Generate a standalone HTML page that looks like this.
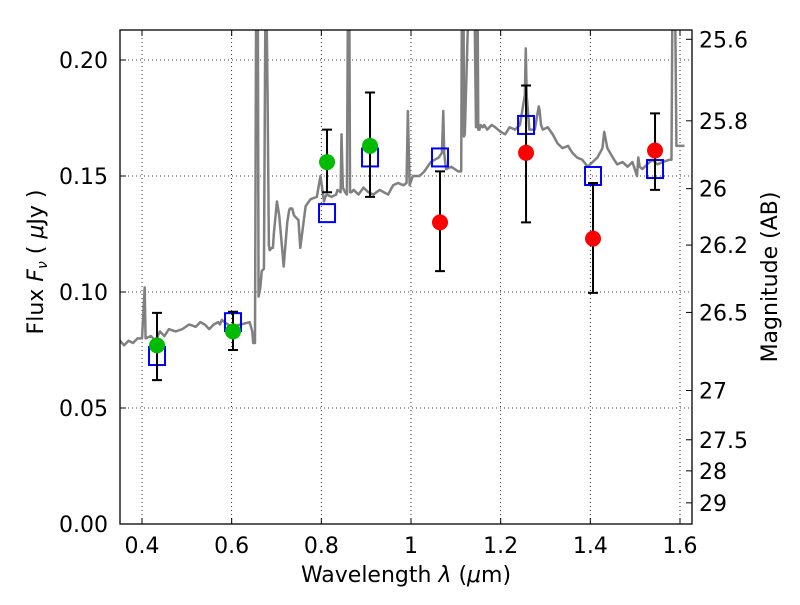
<!DOCTYPE html>
<html><head><meta charset="utf-8"><style>
body{margin:0;background:#fff}
svg text{font-family:"DejaVu Sans","Liberation Sans",sans-serif;fill:#000}
</style></head><body>
<svg id="chart" width="800" height="600" xmlns="http://www.w3.org/2000/svg"></svg>
<script>
const xTicks=[0.4,0.6,0.8,1.0,1.2,1.4,1.6];
const xTickLabels=["0.4","0.6","0.8","1","1.2","1.4","1.6"];
const yTicks=[0,0.05,0.10,0.15,0.20];
const yTickLabels=["0.00","0.05","0.10","0.15","0.20"];
const magTicks=[25.6,25.8,26,26.2,26.5,27,27.5,28,29];
const magLabels=["25.6","25.8","26","26.2","26.5","27","27.5","28","29"];
const specLam=[0.351,0.360,0.370,0.380,0.390,0.400,0.406,0.408,0.420,0.430,0.440,0.450,0.460,0.475,0.490,0.505,0.520,0.530,0.540,0.550,0.560,0.570,0.574,0.578,0.584,0.600,0.620,0.640,0.646,0.648,0.652,0.655,0.658,0.660,0.664,0.667,0.672,0.676,0.680,0.683,0.685,0.689,0.692,0.694,0.701,0.706,0.712,0.716,0.724,0.728,0.730,0.735,0.739,0.749,0.753,0.765,0.776,0.790,0.798,0.806,0.809,0.812,0.823,0.833,0.836,0.843,0.845,0.848,0.853,0.857,0.860,0.862,0.864,0.867,0.872,0.883,0.894,0.905,0.916,0.930,0.949,0.960,0.971,0.983,0.990,0.993,0.997,1.004,1.019,1.030,1.044,1.062,1.069,1.072,1.074,1.078,1.090,1.105,1.112,1.114,1.117,1.118,1.120,1.132,1.140,1.145,1.148,1.150,1.153,1.155,1.160,1.163,1.170,1.180,1.188,1.200,1.210,1.220,1.232,1.243,1.254,1.256,1.258,1.264,1.276,1.285,1.287,1.290,1.294,1.305,1.316,1.327,1.338,1.350,1.360,1.370,1.382,1.394,1.405,1.416,1.427,1.431,1.438,1.450,1.460,1.472,1.483,1.494,1.504,1.507,1.510,1.516,1.527,1.538,1.550,1.561,1.576,1.581,1.584,1.588,1.592,1.601,1.610,1.625];
const specFlux=[0.079,0.077,0.079,0.078,0.080,0.080,0.102,0.080,0.081,0.079,0.083,0.081,0.084,0.083,0.084,0.086,0.085,0.087,0.086,0.084,0.086,0.087,0.086,0.088,0.087,0.085,0.086,0.087,0.083,0.078,0.078,0.25,0.25,0.098,0.102,0.109,0.110,0.25,0.187,0.120,0.118,0.119,0.119,0.125,0.139,0.133,0.120,0.111,0.130,0.135,0.136,0.136,0.133,0.131,0.119,0.137,0.140,0.141,0.150,0.139,0.141,0.142,0.141,0.142,0.144,0.143,0.168,0.145,0.143,0.142,0.25,0.25,0.143,0.143,0.144,0.142,0.145,0.143,0.142,0.144,0.142,0.146,0.147,0.146,0.147,0.178,0.146,0.150,0.150,0.152,0.156,0.158,0.160,0.178,0.160,0.153,0.154,0.152,0.152,0.25,0.25,0.167,0.168,0.25,0.25,0.171,0.25,0.170,0.170,0.172,0.171,0.172,0.170,0.172,0.171,0.169,0.168,0.171,0.170,0.172,0.185,0.205,0.185,0.170,0.170,0.180,0.178,0.172,0.170,0.171,0.168,0.164,0.162,0.163,0.160,0.158,0.157,0.154,0.156,0.158,0.162,0.169,0.162,0.158,0.155,0.156,0.154,0.156,0.150,0.158,0.154,0.153,0.155,0.157,0.155,0.156,0.157,0.157,0.25,0.25,0.163,0.163,0.163];
const obsLam=[0.4335,0.603,0.8127,0.9086,1.0647,1.2566,1.406,1.5443];
const obsFlux=[0.077,0.083,0.156,0.163,0.130,0.160,0.123,0.161];
const obsLo=[0.062,0.075,0.143,0.141,0.109,0.130,0.0996,0.144];
const obsHi=[0.091,0.0915,0.170,0.186,0.152,0.189,0.147,0.177];
const obsColor=["#00bb00","#00bb00","#00bb00","#00bb00","#ff0000","#ff0000","#ff0000","#ff0000"];
const modelFlux=[0.0724,0.087,0.134,0.158,0.158,0.172,0.150,0.153];

const L=120,R=692,T=30,B=524;
const X=v=>142+(v-0.4)*448.33;
const Y=v=>524-v*2320;
const magToFlux=m=>Math.pow(10,(23.9-m)/2.5);
const svg=document.getElementById('chart');
const NS="http://www.w3.org/2000/svg";
function mk(tag,at,parent){const e=document.createElementNS(NS,tag);for(const k in at)e.setAttribute(k,at[k]);(parent||svg).appendChild(e);return e;}
const defs=mk('defs',{});const cp=mk('clipPath',{id:'pc'},defs);mk('rect',{x:L,y:T,width:R-L,height:B-T},cp);
const FS=22;
xTicks.forEach((v,i)=>{
 const g=mk('line',{x1:X(v),x2:X(v),y1:T,y2:B,stroke:'#000','stroke-width':0.8,'stroke-dasharray':'1,3'});
 
 
 mk('line',{x1:X(v),x2:X(v),y1:B,y2:B-6,stroke:'#000'});
 mk('line',{x1:X(v),x2:X(v),y1:T,y2:T+6,stroke:'#000'});
 const t=mk('text',{x:X(v),y:B+29,'font-size':FS,'text-anchor':'middle'});t.textContent=xTickLabels[i];
 
 
});
yTicks.forEach((v,i)=>{
 if(v>0){const g=mk('line',{x1:L,x2:R,y1:Y(v),y2:Y(v),stroke:'#000','stroke-width':0.8,'stroke-dasharray':'1,3'});
 
 }
 mk('line',{x1:L,x2:L+6,y1:Y(v),y2:Y(v),stroke:'#000'});
 const t=mk('text',{x:L-12,y:Y(v)+8,'font-size':FS,'text-anchor':'end'});t.textContent=yTickLabels[i];
 
 
});
magTicks.forEach((m,i)=>{
 const f=magToFlux(m);
 mk('line',{x1:R,x2:R-6,y1:Y(f),y2:Y(f),stroke:'#000'});
 const t=mk('text',{x:R+7,y:Y(f)+8,'font-size':FS});t.textContent=magLabels[i];
 
 
});
const pg=mk('g',{'clip-path':'url(#pc)'});
const sp=mk('polyline',{points:specLam.map((l,i)=>X(l)+','+Y(specFlux[i])).join(' '),fill:'none',stroke:'#808080','stroke-width':2.5,'stroke-linejoin':'round'},pg);


obsLam.forEach((l,i)=>{
 const s=mk('rect',{x:X(l)-8,y:Y(modelFlux[i])-9,width:16,height:18,fill:'none',stroke:'#0000ff','stroke-width':2},pg);
 
 
});
obsLam.forEach((l,i)=>{
 const x=X(l);
 const e=mk('path',{d:`M${x},${Y(obsLo[i])}V${Y(obsHi[i])}M${x-5},${Y(obsLo[i])}h10M${x-5},${Y(obsHi[i])}h10`,stroke:'#000','stroke-width':2,fill:'none'},pg);
 
 
 const c=mk('circle',{cx:x,cy:Y(obsFlux[i]),r:8,fill:obsColor[i]},pg);
 
 
});
const fr=mk('rect',{x:L,y:T,width:R-L,height:B-T,fill:'none',stroke:'#000','stroke-width':1.3});


let t=mk('text',{x:406,y:582,'font-size':FS,'text-anchor':'middle'});
t.innerHTML='Wavelength  <tspan font-style="italic">λ</tspan> (<tspan font-style="italic">μ</tspan>m)';


t=mk('text',{transform:'translate(43,262) rotate(-90)','font-size':FS,'text-anchor':'middle'});
t.innerHTML='Flux  <tspan font-style="italic">F</tspan><tspan font-style="italic" font-size="14" dy="4">ν</tspan><tspan dy="-4">  ( </tspan><tspan font-style="italic">μ</tspan>Jy )';


t=mk('text',{transform:'translate(777,277) rotate(-90)','font-size':FS,'text-anchor':'middle'});
t.textContent='Magnitude (AB)';


</script>
</body></html>
